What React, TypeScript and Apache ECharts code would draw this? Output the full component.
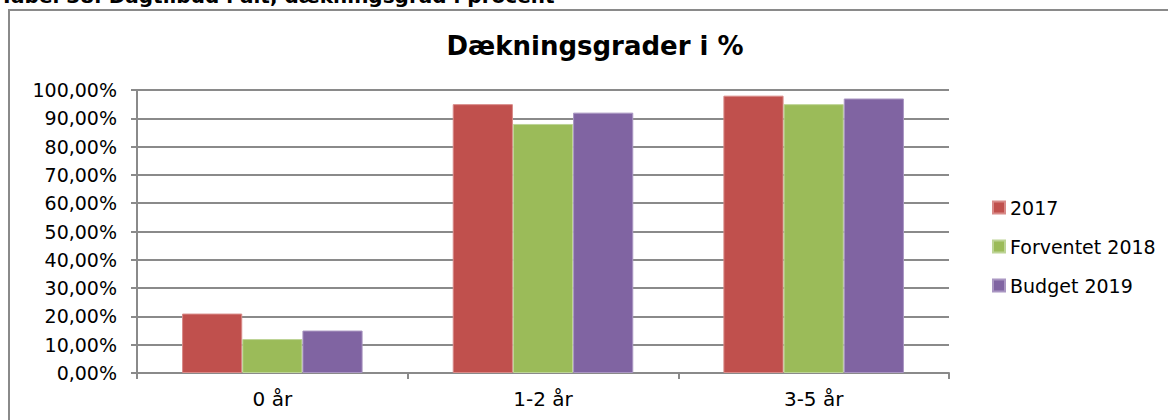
import React, { useEffect, useRef } from "react";
import * as echarts from "echarts";

const categories = ["0 år", "1-2 år", "3-5 år"];
const seriesNames = ["2017", "Forventet 2018", "Budget 2019"];
const values2017 = [0.21, 0.95, 0.98];
const values2018 = [0.12, 0.88, 0.95];
const values2019 = [0.15, 0.92, 0.97];
const colors = ["#C0504D", "#9BBB59", "#8064A2"];
const borderColors = ["#D88A88", "#BDD496", "#A996C2"];
const title = "Dækningsgrader i %";
const caption = "Tabel 38. Dagtilbud i alt, dækningsgrad i procent";

const FONT = "DejaVu Sans, Verdana, sans-serif";
const GRAY = "#8a8a8a";

export default function App() {
  const ref = useRef<HTMLDivElement>(null);
  useEffect(() => {
    if (!ref.current) return;
    const chart = echarts.init(ref.current, null, { renderer: "svg" });
    const data = [values2017, values2018, values2019];
    chart.setOption({
      animation: false,
      textStyle: { fontFamily: FONT },
      graphic: [
        {
          type: "rect",
          shape: { x: 9, y: 10, width: 1300, height: 600 },
          style: { fill: "none", stroke: GRAY, lineWidth: 2 },
          z: 0,
        },
        {
          type: "text",
          x: 0,
          y: 6,
          style: {
            text: caption,
            fontFamily: FONT,
            fontWeight: "bold",
            fontSize: 20,
            fill: "#000",
            textAlign: "left",
            textVerticalAlign: "bottom",
          },
        },
        {
          type: "text",
          x: 595,
          y: 46,
          style: {
            text: title,
            fontFamily: FONT,
            fontWeight: "bold",
            fontSize: 26,
            fill: "#000",
            textAlign: "center",
            textVerticalAlign: "middle",
          },
        },
      ],
      grid: { left: 137, right: 219, top: 90, bottom: 47, containLabel: false },
      legend: {
        orient: "vertical",
        left: 987,
        top: 193,
        itemWidth: 12,
        itemHeight: 12,
        itemGap: 20,
        itemTextGap: 6,
        icon: "rect",
        textStyle: { fontFamily: FONT, fontSize: 19, lineHeight: 19, color: "#000" },
        data: seriesNames,
      },
      xAxis: {
        type: "category",
        data: categories,
        axisLine: { show: true, lineStyle: { color: GRAY, width: 2 } },
        axisTick: { show: true, length: 6, interval: 0, lineStyle: { color: GRAY, width: 2 } },
        axisLabel: { fontFamily: FONT, fontSize: 20, color: "#000", margin: 16, interval: 0 },
      },
      yAxis: {
        type: "value",
        min: 0,
        max: 1,
        interval: 0.1,
        axisLine: { show: true, lineStyle: { color: GRAY, width: 2 } },
        axisTick: { show: true, length: 6, lineStyle: { color: GRAY, width: 2 } },
        splitLine: { show: true, lineStyle: { color: GRAY, width: 2 } },
        axisLabel: {
          fontFamily: FONT,
          fontSize: 19,
          color: "#000",
          margin: 20,
          formatter: (v: number) => (v * 100).toFixed(2).replace(".", ",") + "%",
        },
      },
      series: seriesNames.map((name, i) => ({
        name,
        type: "bar",
        data: data[i],
        barGap: "0%",
        barCategoryGap: "33.3%",
        itemStyle: { color: colors[i], borderColor: borderColors[i], borderWidth: 1 },
      })),
    });
    return () => chart.dispose();
  }, []);
  return (
    <div
      ref={ref}
      style={{ position: "absolute", left: 0, top: 0, width: 1168, height: 420, background: "#fff" }}
    />
  );
}
